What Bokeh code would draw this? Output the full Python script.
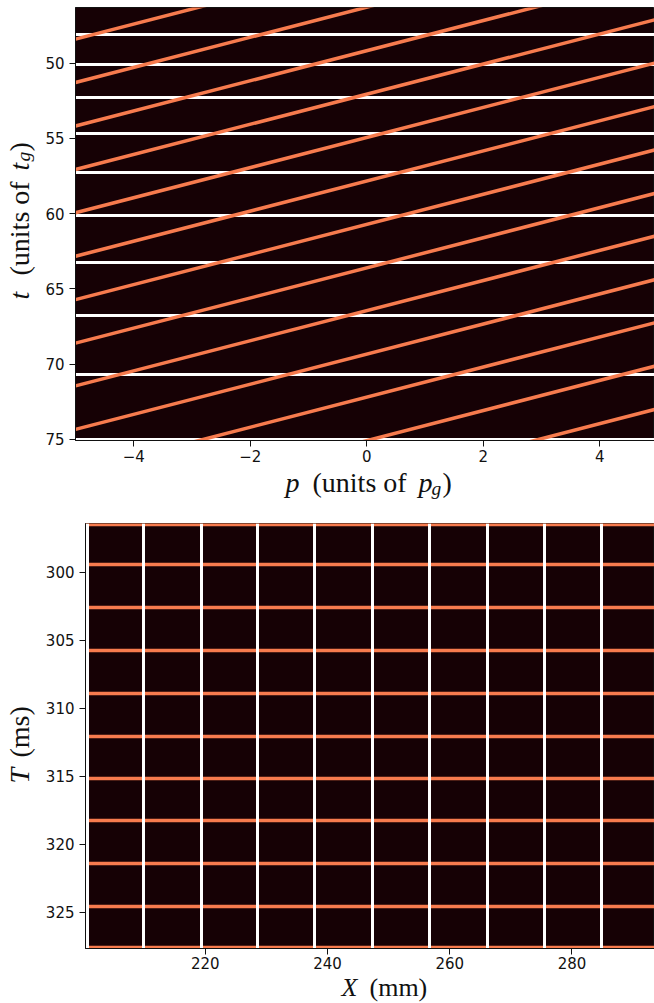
import numpy as np
from math import pi
from bokeh.plotting import figure
from bokeh.models import Range1d, FixedTicker
from bokeh.core.properties import value
from bokeh.layouts import column, row
from bokeh.embed import file_html
from bokeh.resources import INLINE

# ---------------- data ----------------
# top panel: p (units of p_g) vs t (units of t_g), t axis inverted
top_p_range = [-5.0, 4.94]
top_t_range = [46.31, 75.08]
top_white_t = [48.12, 50.13, 52.28, 54.65, 57.28, 60.12, 63.28, 66.78, 70.70, 75.02]
top_orange_t0 = [43.41, 46.29, 49.18, 52.07, 54.95, 57.84, 60.72, 63.61,
                 66.45, 69.34, 72.20, 75.09, 77.96]   # t at p = 0
top_orange_slope = -1.0                               # dt/dp
top_xticks = [-4, -2, 0, 2, 4]
top_xtick_labels = ["\u22124", "\u22122", "0", "2", "4"]
top_yticks = [50, 55, 60, 65, 70, 75]

# bottom panel: X (mm) vs T (ms), T axis inverted
bot_X_range = [200.4, 293.5]
bot_T_range = [296.42, 327.66]
bot_white_X = [200.69, 209.90, 219.35, 228.56, 237.95, 247.33, 256.71,
               266.10, 275.48, 284.86, 294.24]
bot_orange_T = [296.47, 299.46, 302.60, 305.74, 308.90, 312.04, 315.15,
                318.26, 321.40, 324.54, 327.60]
bot_xticks = [220, 240, 260, 280]
bot_yticks = [300, 305, 310, 315, 320, 325]

# ---------------- style ----------------
DARK = "#160105"
ORANGE = "#f77b4e"
WHITE = "#ffffff"
INK = "#111111"
TICK_FONT = "DejaVu Sans"
LABEL_FONT = "Liberation Serif"
FS = 28          # axis-label font size (px)
SUB = 19.5       # subscript font size (px)
BASE_FIX = -10   # renderer places the alphabetic baseline ~10px low


def make_fig(width, height, xr, yr, mbt, mbb, mbl, xticks, yticks,
             xlabels=None, xstandoff=5):
    p = figure(width=width, height=height,
               x_range=Range1d(xr[0], xr[1]),
               y_range=Range1d(yr[1], yr[0]),      # inverted
               output_backend="svg", toolbar_location=None,
               min_border_top=mbt, min_border_bottom=mbb,
               min_border_left=mbl, min_border_right=0)
    p.background_fill_color = DARK
    p.border_fill_color = "white"
    p.outline_line_color = INK
    p.outline_line_width = 1
    p.grid.visible = False
    p.xaxis.ticker = FixedTicker(ticks=xticks)
    p.yaxis.ticker = FixedTicker(ticks=yticks)
    if xlabels is not None:
        p.xaxis.major_label_overrides = {t: l for t, l in zip(xticks, xlabels)}
    for ax in (p.xaxis[0], p.yaxis[0]):
        ax.major_label_text_font = TICK_FONT
        ax.major_label_text_font_size = "15px"
        ax.major_label_text_color = INK
        ax.major_tick_out = 6
        ax.major_tick_in = 0
        ax.minor_tick_out = 0
        ax.minor_tick_in = 0
        ax.axis_line_color = INK
        ax.major_tick_line_color = INK
        ax.major_label_standoff = 5
    p.xaxis[0].major_label_standoff = xstandoff
    return p


def text_fig(width, height, page_x0, page_y0, mbt=0, mbb=0):
    """A bare figure whose frame maps page pixels 1:1 (y downward)."""
    f = figure(width=width, height=height,
               x_range=Range1d(page_x0, page_x0 + width),
               y_range=Range1d(page_y0 + height - mbb, page_y0 + mbt),
               x_axis_type=None, y_axis_type=None,
               output_backend="svg", toolbar_location=None,
               min_border_top=mbt, min_border_bottom=mbb,
               min_border_left=0, min_border_right=0)
    f.outline_line_color = None
    f.background_fill_color = "white"
    f.border_fill_color = "white"
    f.grid.visible = False
    return f


def put(f, pieces, rotated=False):
    # pieces: (text, style, size, page_x, page_y) -> left end of baseline
    for text, style, size, px, py in pieces:
        if rotated:
            px = px + BASE_FIX
        else:
            py = py + BASE_FIX
        f.text(x=[px], y=[py], text=[text],
               text_font=value(LABEL_FONT), text_font_style=style,
               text_font_size=value(f"{size}px"), text_color=INK,
               text_baseline="alphabetic", text_align="left",
               angle=pi / 2 if rotated else 0)


# ---------------- top panel ----------------
YLA_W = 40
H1, T1, B1 = 467, 7, 27
p1 = make_fig(654 - YLA_W, H1, top_p_range, top_t_range, T1, B1, 75 - YLA_W,
              top_xticks, top_yticks, top_xtick_labels, xstandoff=3)
p1.hspan(y=top_white_t, line_color=WHITE, line_width=3)
t0 = np.array(top_orange_t0)
pa, pb = -6.0, 6.0
p1.segment(x0=np.full(t0.size, pa), y0=t0 + top_orange_slope * pa,
           x1=np.full(t0.size, pb), y1=t0 + top_orange_slope * pb,
           line_color=ORANGE, line_width=3.5)

yl1 = text_fig(YLA_W, H1, 0, 0, mbt=T1, mbb=B1)
put(yl1, [
    ("t", "italic", FS, 29, 299),
    ("(units of", "normal", FS, 29, 275),
    ("t", "italic", FS, 29, 170),
    ("g", "italic", SUB, 33, 161),
    (")", "normal", FS, 29, 151),
], rotated=True)

XL1_H = 523 - H1
xl1 = text_fig(654, XL1_H, 0, H1)
put(xl1, [
    ("p", "italic", FS, 285, 492),
    ("(units of", "normal", FS, 312, 492),
    ("p", "italic", FS, 418, 492),
    ("g", "italic", SUB, 431, 498),
    (")", "normal", FS, 442, 492),
])

# ---------------- bottom panel ----------------
YLB_W = 40
H2, T2, B2 = 451, 0, 26
p2 = make_fig(654 - YLB_W, H2, bot_X_range, bot_T_range, T2, B2, 85 - YLB_W,
              bot_xticks, bot_yticks, xstandoff=2)
p2.hspan(y=bot_orange_T, line_color=ORANGE, line_width=3.5)
p2.vspan(x=bot_white_X, line_color=WHITE, line_width=3)

Y2 = 523  # page y of the bottom figure
yl2 = text_fig(YLB_W, H2, 0, Y2, mbt=T2, mbb=B2)
put(yl2, [
    ("T", "italic", FS, 29, 783),
    ("(ms)", "normal", FS, 29, 757),
], rotated=True)

XL2_Y = Y2 + H2
xl2 = text_fig(654, 1003 - XL2_Y, 0, XL2_Y)
put(xl2, [
    ("X", "italic", 26, 341, 997.3),
    ("(mm)", "normal", 26, 369, 997.3),
])

layout = column(row(yl1, p1, spacing=0), xl1,
                row(yl2, p2, spacing=0), xl2, spacing=0)
open("out.html", "w").write(file_html(layout, INLINE))
